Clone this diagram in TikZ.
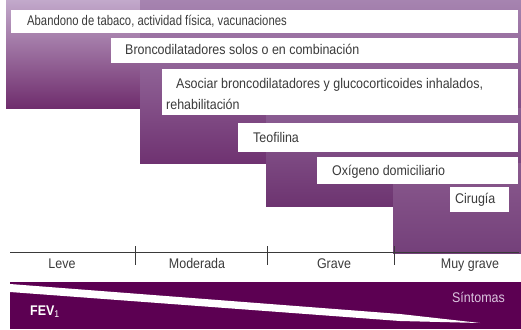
\documentclass[tikz,border=0pt]{standalone}
\usepackage{fontspec}
\setmainfont{Liberation Sans}[FakeStretch=0.89]
\definecolor{sAtop}{HTML}{C2A9CB}
\definecolor{sAbot}{HTML}{6F2D6D}
\definecolor{sBtop}{HTML}{A684B0}
\definecolor{sBbot}{HTML}{6F3271}
\definecolor{sCtop}{HTML}{8C5F94}
\definecolor{sCbot}{HTML}{6D3470}
\definecolor{sDtop}{HTML}{8A5A8E}
\definecolor{sDbot}{HTML}{74407A}
\definecolor{barpurple}{HTML}{5C0052}
\definecolor{txtgray}{HTML}{3A3A3A}
\definecolor{lav}{HTML}{DCC6E0}
\begin{document}
\begin{tikzpicture}[x=1pt,y=-1pt,
  txt/.style={font=\fontsize{14}{16}\selectfont, text=txtgray, inner sep=0pt, anchor=base west},
  lbl/.style={font=\fontsize{14}{16}\selectfont, text=txtgray, inner sep=0pt, anchor=base},
  whitebox/.style={fill=white},
  tick/.style={draw=txtgray, line width=0.8pt}]
\useasboundingbox (0,0) rectangle (521,329);
% staircase
\shade[top color=sAtop, bottom color=sAbot] (6,0) rectangle (521,108);
\shade[top color=sBtop, bottom color=sBbot] (140,0) rectangle (521,163);
\shade[top color=sCtop, bottom color=sCbot] (266,108) rectangle (521,206);
\shade[top color=sDtop, bottom color=sDbot] (393,163) rectangle (521,253);
% boxes
\fill[whitebox] (11,10) rectangle (518,33);
\node[txt] (t1) at (27,26) {\scalebox{0.905}[1]{Abandono de tabaco, actividad física, vacunaciones}};
\fill[whitebox] (111,38) rectangle (518,63);
\node[txt] (t2) at (125,55) {Broncodilatadores solos o en combinación};
\fill[whitebox] (162,69) rectangle (518,115);
\node[txt] (t3) at (176,88) {Asociar broncodilatadores y glucocorticoides inhalados,};
\node[txt] (t3b) at (166,109) {rehabilitación};
\fill[whitebox] (238,123) rectangle (518,152);
\node[txt] (t4) at (253,142) {Teofilina};
\fill[whitebox] (317,157) rectangle (518,184);
\node[txt] (t5) at (332,175) {Oxígeno domiciliario};
\fill[whitebox] (450,187) rectangle (509,212);
\node[txt] (t6) at (455,203) {Cirugía};
% timeline
\coordinate (lstart) at (10,252);
\coordinate (lend) at (519,252);
\draw[draw=txtgray, line width=0.8pt] (lstart) -- (lend);
\coordinate (k1a) at (135,246); \coordinate (k1b) at (135,265);
\coordinate (k2a) at (267,246); \coordinate (k2b) at (267,265);
\coordinate (k3a) at (394,246); \coordinate (k3b) at (394,265);
\draw[tick] (k1a) -- (k1b);
\draw[tick] (k2a) -- (k2b);
\draw[tick] (k3a) -- (k3b);
\node[lbl] (l1) at (62,268) {Leve};
\node[lbl] (l2) at (197,268) {Moderada};
\node[lbl] (l3) at (334,268) {Grave};
\node[lbl] (l4) at (470,268) {Muy grave};
% bottom bar
\fill[barpurple] (10,282) rectangle (521,329);
\begin{scope}
\clip (10,282) rectangle (521,329);
\fill[white] (10,284) -- (400,314) -- (480,323) -- (400,321) -- (10,292) -- cycle;
\end{scope}
\node[font=\fontsize{14}{16}\selectfont\bfseries, text=white, inner sep=0pt, anchor=base west] (fev) at (30,315) {FEV\textsubscript{\mdseries 1}};
\node[font=\fontsize{14}{16}\selectfont, text=lav, inner sep=0pt, anchor=base east] (sint) at (505,302) {Síntomas};
\end{tikzpicture}
\end{document}
